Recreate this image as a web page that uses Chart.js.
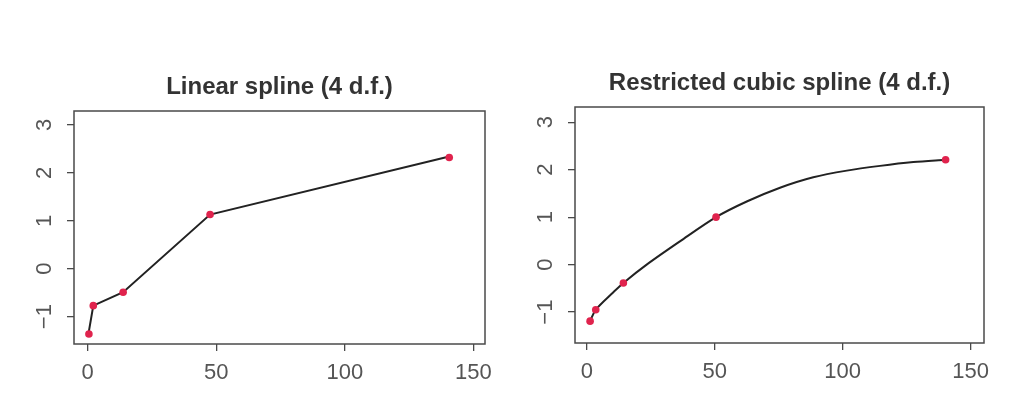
<!DOCTYPE html>
<html><head><meta charset="utf-8">
<script src="https://cdn.jsdelivr.net/npm/chart.js@4/dist/chart.umd.min.js"></script>
<style>
html,body{margin:0;padding:0;background:#fff;}
#wrap{position:relative;width:1028px;height:415px;background:#fff;}
canvas{position:absolute;top:0;}
</style></head><body>
<div id="wrap">
<canvas id="c1" width="514" height="415" style="left:0"></canvas>
<canvas id="c2" width="514" height="415" style="left:514px"></canvas>
</div>
<script>
// ---- data ----
const xTickValues = [0, 50, 100, 150];
const xTickLabels = ['0', '50', '100', '150'];
const yTickValues = [-1, 0, 1, 2, 3];
const yTickLabels = ['\u22121', '0', '1', '2', '3'];

const linTitle = 'Linear spline (4 d.f.)';
const linPointX = [0.5, 2.2, 13.8, 47.6, 140.6];
const linPointY = [-1.36, -0.77, -0.49, 1.13, 2.32];
const linLineX = [0.5, 2.2, 13.8, 47.6, 140.6];
const linLineY = [-1.30, -0.77, -0.49, 1.13, 2.34];

const rcsTitle = 'Restricted cubic spline (4 d.f.)';
const rcsPointX = [1.3, 3.5, 14.3, 50.5, 140.2];
const rcsPointY = [-1.19, -0.95, -0.385, 1.0, 2.21];
const rcsLineX = [1.3, 3.5, 10.4, 14.3, 23.4, 36.4, 50.5, 62.5, 75.5, 88.5, 101.6, 114.6, 127.6, 140.2];
const rcsLineY = [-1.19, -0.95, -0.58, -0.385, 0.0, 0.49, 1.0, 1.33, 1.62, 1.84, 1.98, 2.08, 2.16, 2.21];

// ---- drawing ----
const FONT = '"Liberation Sans", Arial, Helvetica, sans-serif';
const pairs = (xs, ys) => xs.map((x, i) => ({x: x, y: ys[i]}));

const boxPlugin = {
  id: 'rbox',
  afterDatasetsDraw(chart) {
    const {ctx, chartArea: a} = chart;
    ctx.save();
    ctx.strokeStyle = '#4a4a4a';
    ctx.lineWidth = 1.5;
    ctx.strokeRect(a.left, a.top, a.right - a.left, a.bottom - a.top);
    ctx.restore();
  }
};

function makePanel(id, title, px, py, lx, ly, g) {
  new Chart(document.getElementById(id), {
    type: 'scatter',
    data: {
      datasets: [
        {data: pairs(px, py), showLine: false, pointRadius: 3.8, pointHoverRadius: 3.8,
         backgroundColor: '#e0234d', borderColor: '#e0234d', borderWidth: 0},
        {data: pairs(lx, ly), showLine: true, pointRadius: 0, borderColor: '#222',
         borderWidth: 2, tension: g.tension, fill: false}
      ]
    },
    options: {
      responsive: false, animation: false, events: [],
      layout: {padding: {left: 0, right: g.padRight, top: 0, bottom: 0}},
      plugins: {
        legend: {display: false}, tooltip: {enabled: false},
        title: {display: true, text: title, fullSize: false, color: '#333',
          font: {family: FONT, size: 24, weight: 'bold'},
          padding: {top: g.titleTop, bottom: g.titleBottom}}
      },
      scales: {
        x: {
          type: 'linear', min: g.xmin, max: g.xmax,
          afterBuildTicks: s => { s.ticks = xTickValues.map(v => ({value: v})); },
          afterFit: s => { s.height = 415 - g.bottom; },
          grid: {drawOnChartArea: false, drawTicks: true, tickLength: 7, color: '#4a4a4a', lineWidth: 1.3},
          border: {display: false},
          ticks: {autoSkip: false, maxRotation: 0, padding: 9, color: '#555',
            font: {family: FONT, size: 22},
            callback: v => xTickLabels[xTickValues.indexOf(v)]}
        },
        y: {
          type: 'linear', min: g.ymin, max: g.ymax,
          afterBuildTicks: s => { s.ticks = yTickValues.map(v => ({value: v})); },
          afterFit: s => { s.width = g.left; },
          grid: {drawOnChartArea: false, drawTicks: true, tickLength: 7, color: '#4a4a4a', lineWidth: 1.3},
          border: {display: false},
          ticks: {autoSkip: false, minRotation: 90, maxRotation: 90, crossAlign: 'center', padding: 10,
            color: '#555', font: {family: FONT, size: 22},
            callback: v => yTickLabels[yTickValues.indexOf(v)]}
        }
      }
    },
    plugins: [boxPlugin]
  });
}

makePanel('c1', linTitle, linPointX, linPointY, linLineX, linLineY,
  {left: 74, padRight: 29, bottom: 344, titleTop: 73, titleBottom: 9.2,
   xmin: -5.3, xmax: 154.5, ymin: -1.57, ymax: 3.29, tension: 0});
makePanel('c2', rcsTitle, rcsPointX, rcsPointY, rcsLineX, rcsLineY,
  {left: 61, padRight: 44, bottom: 343, titleTop: 68.6, titleBottom: 9.6,
   xmin: -4.6, xmax: 155.2, ymin: -1.65, ymax: 3.32, tension: 0.3});
</script>
</body></html>
